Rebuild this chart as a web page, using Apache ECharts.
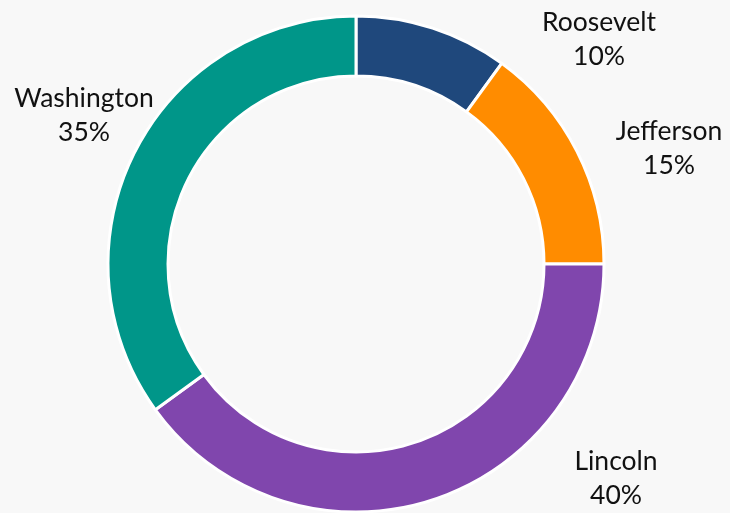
<!DOCTYPE html>
<html><head><meta charset="utf-8">
<script src="https://cdn.jsdelivr.net/npm/echarts@6/dist/echarts.min.js"></script>
<style>html,body{margin:0;padding:0;background:#f8f8f8}#c{width:730px;height:513px}</style>
</head><body><div id="c"></div>
<script>
const names = ['Roosevelt', 'Jefferson', 'Lincoln', 'Washington'];
const values = [10, 15, 40, 35];
const colors = ['#1f487c', '#ff8c00', '#8046ad', '#009689'];
const labelPos = [[599, 39], [669, 148], [616, 478], [84, 115]];

const chart = echarts.init(document.getElementById('c'), null, {renderer: 'canvas'});
chart.setOption({
  backgroundColor: '#f8f8f8',
  animation: false,
  series: [{
    type: 'pie',
    center: [356, 264],
    radius: [188, 248],
    startAngle: 90,
    clockwise: true,
    data: names.map((n, i) => ({name: n, value: values[i], itemStyle: {color: colors[i]}})),
    itemStyle: {borderColor: '#ffffff', borderWidth: 3},
    label: {
      show: true,
      position: 'outside',
      formatter: '{b}\n{c}%',
      fontFamily: 'Lato',
      fontSize: 26.5,
      lineHeight: 34,
      color: '#111',
      align: 'center',
      overflow: 'none',
      width: 200
    },
    labelLine: {show: false},
    labelLayout: function (p) {
      const pos = labelPos[p.dataIndex];
      return {x: pos[0], y: pos[1], align: 'center', verticalAlign: 'middle'};
    },
    emphasis: {disabled: true}
  }]
});
</script></body></html>
